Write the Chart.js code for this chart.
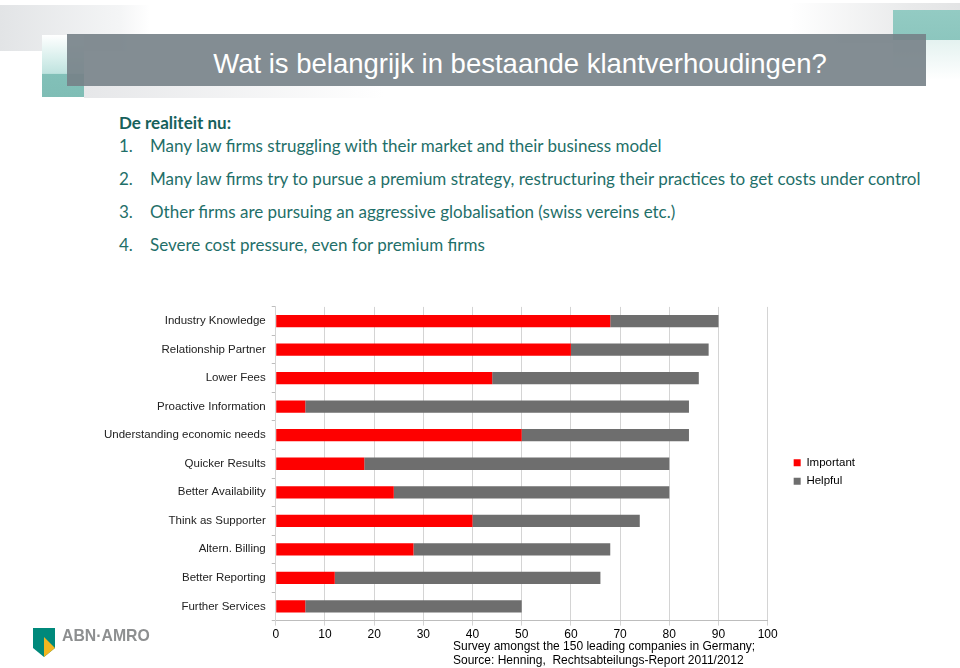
<!DOCTYPE html>
<html>
<head>
<meta charset="utf-8">
<script src="https://cdn.jsdelivr.net/npm/chart.js@4.4.1/dist/chart.umd.min.js"></script>
<style>
  html, body { margin: 0; padding: 0; background: #fff; }
  body { width: 960px; height: 668px; position: relative; overflow: hidden; font-family: "Liberation Sans", Arial, sans-serif; }
  .deco { position: absolute; }
  #tl { left: 0; top: 5px; width: 150px; height: 46px; background: linear-gradient(90deg, #e2e4e6, #f4f5f6 80%, #fff); }
  #tealL { left: 42px; top: 35px; width: 42px; height: 62px; background: linear-gradient(180deg, #ffffff 0%, #d6eeeb 40%, #bfe3df 62%, #82c0b8 63%, #7fbdb5 100%); }
  #tr { left: 790px; top: 3px; width: 170px; height: 40px; background: linear-gradient(90deg, #fff, #e9eaeb 70%, #e3e4e5); }
  #tealR { left: 893px; top: 10px; width: 67px; height: 30px; background: linear-gradient(180deg, #93cbc3, #8cc6be); }
  #tealR2 { left: 893px; top: 40px; width: 67px; height: 40px; background: linear-gradient(180deg, #e4f2f0, #fff); }
  #under { left: 84px; top: 86px; width: 300px; height: 12px; background: linear-gradient(90deg, #e6e7e9, #fff); }
  #banner { left: 67px; top: 34px; width: 859px; height: 52px; background: rgba(118,129,135,0.9); }
  #title { left: 67px; top: 34px; width: 906px; height: 52px; line-height: 60px; text-align: center; color: #fff; font-size: 27.5px; }
  #text { left: 119px; top: 110px; color: #1f6f69; font-family: Lato, "Open Sans", sans-serif; font-size: 17px; }
  #text .h { font-weight: bold; color: #16615b; height: 26px; line-height: 26px; }
  #text .li { height: 33px; line-height: 20px; white-space: nowrap; }
  #text .li span { display: inline-block; width: 31px; }
  #wrap { left: 98px; top: 294px; width: 767px; height: 350px; }
  #note { left: 453px; top: 640px; font-size: 12px; line-height: 13.5px; color: #000; }
  #logoText { left: 62px; top: 626px; font-size: 17px; font-weight: bold; color: #8d8f90; transform: scaleX(0.93); transform-origin: left top; }
</style>
</head>
<body>
<div class="deco" id="tl"></div>
<div class="deco" id="tr"></div>
<div class="deco" id="tealL"></div>
<div class="deco" id="tealR2"></div>
<div class="deco" id="tealR"></div>
<div class="deco" id="under"></div>
<div class="deco" id="banner"></div>
<div class="deco" id="title">Wat is belangrijk in bestaande klantverhoudingen?</div>
<div class="deco" id="text">
  <div class="h">De realiteit nu:</div>
  <div class="li"><span>1.</span>Many law firms struggling with their market and their business model</div>
  <div class="li"><span>2.</span>Many law firms try to pursue a premium strategy, restructuring their practices to get costs under control</div>
  <div class="li"><span>3.</span>Other firms are pursuing an aggressive globalisation (swiss vereins etc.)</div>
  <div class="li"><span>4.</span>Severe cost pressure, even for premium firms</div>
</div>
<div class="deco" id="wrap"><canvas id="chart"></canvas></div>
<div class="deco" id="note">Survey amongst the 150 leading companies in Germany;<br>Source: Henning,&nbsp; Rechtsabteilungs-Report 2011/2012</div>
<svg class="deco" style="left:30px;top:625px" width="30" height="36">
  <path d="M3,3 H25 V23 L14,32 L3,23 Z" fill="#00897b"/>
  <path d="M14,12 L25,23 L14,32 Z" fill="#f3b61f"/>
</svg>
<div class="deco" id="logoText">ABN·AMRO</div>
<script>
const categories = ['Industry Knowledge', 'Relationship Partner', 'Lower Fees', 'Proactive Information',
  'Understanding economic needs', 'Quicker Results', 'Better Availability', 'Think as Supporter',
  'Altern. Billing', 'Better Reporting', 'Further Services'];
const important = [68, 60, 44, 6, 50, 18, 24, 40, 28, 12, 6];
const helpful = [22, 28, 42, 78, 34, 62, 56, 34, 40, 54, 44];
const xTicks = [0, 10, 20, 30, 40, 50, 60, 70, 80, 90, 100];

const canvas = document.getElementById('chart');
canvas.width = 767; canvas.height = 350;

// push the legend a bit away from the plot, into the right padding
const legendGap = {
  id: 'legendGap',
  afterLayout(chart) {
    chart.legend.left += 19;
    chart.legend.right += 19;
    chart.legend.top -= 2;
    chart.legend.bottom -= 2;
  }
};

new Chart(canvas, {
  type: 'bar',
  data: {
    labels: categories,
    datasets: [
      { label: 'Important', data: important, backgroundColor: '#fe0000', barPercentage: 0.43, categoryPercentage: 1 },
      { label: 'Helpful', data: helpful, backgroundColor: '#6e6e6e', barPercentage: 0.43, categoryPercentage: 1 }
    ]
  },
  plugins: [legendGap],
  options: {
    indexAxis: 'y',
    responsive: false,
    animation: false,
    layout: { padding: { top: 10, right: 19, bottom: 0, left: 0 } },
    plugins: {
      tooltip: { enabled: false },
      legend: {
        position: 'right',
        labels: { boxWidth: 7, boxHeight: 7, padding: 7, color: '#000', font: { family: 'Liberation Sans', size: 11.5 } }
      }
    },
    scales: {
      x: {
        stacked: true, min: 0, max: 100,
        afterBuildTicks: s => { s.ticks = xTicks.map(v => ({ value: v })); },
        grid: { color: '#d4d4d4', tickLength: 5 },
        border: { color: '#bdbdbd' },
        ticks: { color: '#000', padding: 2, font: { family: 'Liberation Sans', size: 12 } }
      },
      y: {
        stacked: true,
        grid: { drawOnChartArea: false, offset: true, tickLength: 4, color: '#bdbdbd' },
        border: { color: '#d4d4d4' },
        ticks: { color: '#222', padding: 6, font: { family: 'Liberation Sans', size: 11.5 } }
      }
    }
  }
});
</script>
</body>
</html>
